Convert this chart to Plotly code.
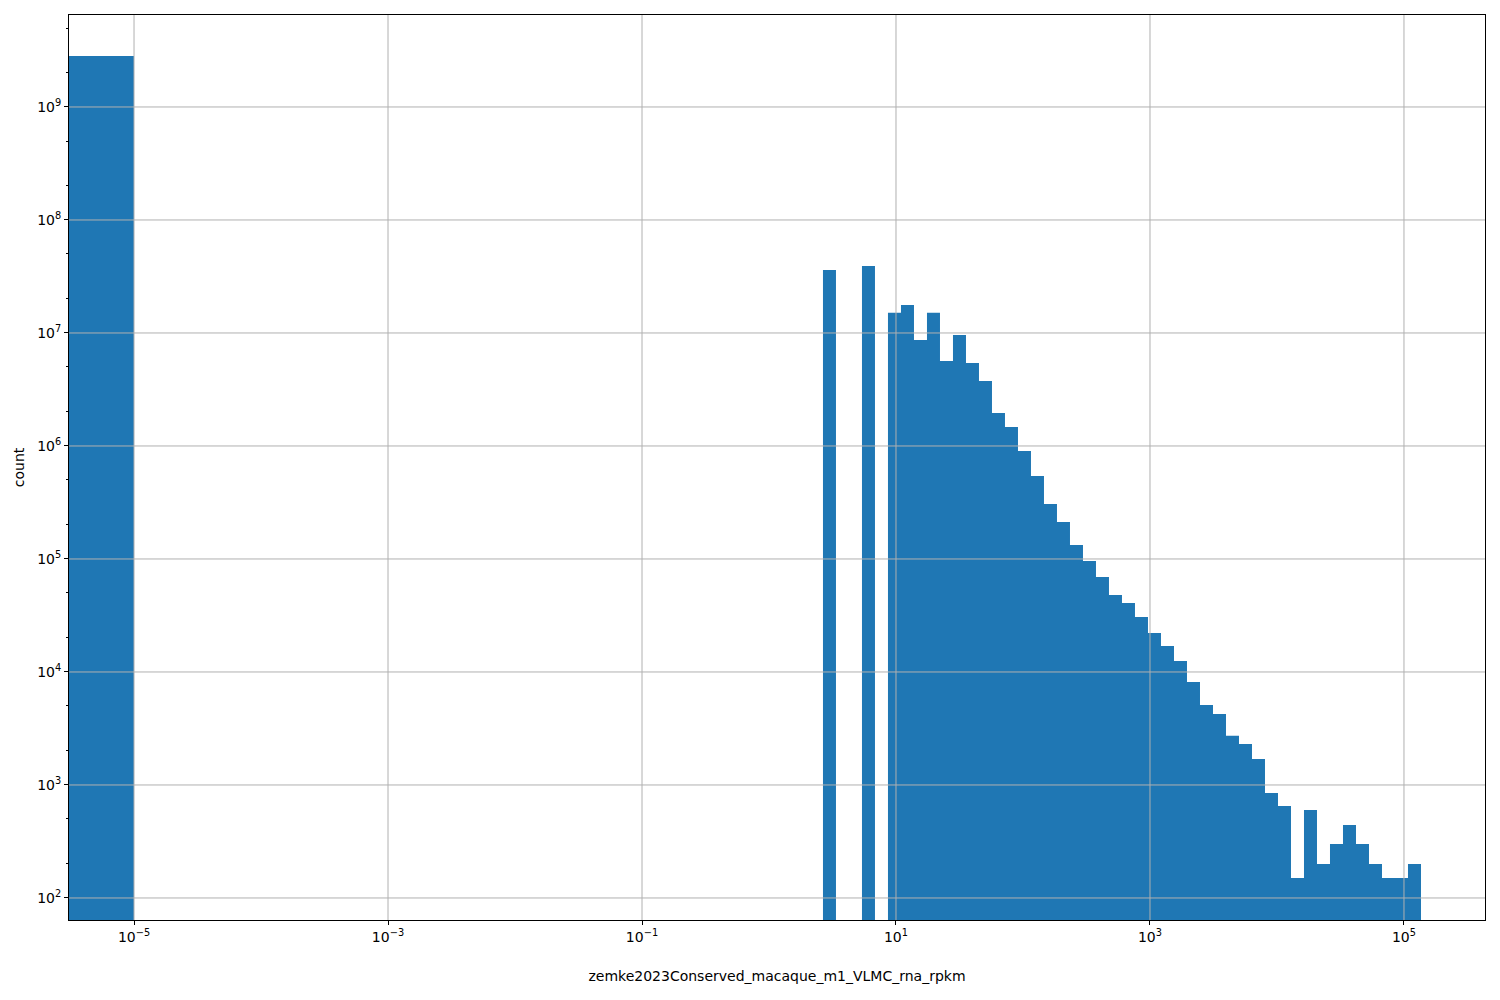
import numpy as np
import plotly.graph_objects as go

# ---- data ----
# wide first bin (values at the floor 1e-5)
floor_bin_edges = [1e-6, 1e-5]
floor_bin_count = 2.83e9

# log-spaced histogram bins: 46 bins between these log10 edges
log_edge_lo = 0.425
log_edge_hi = 5.134
n_bins = 46
counts = [
    3.6e7, 0, 0, 3.92e7, 0, 1.51e7, 1.77e7, 8.67e6, 1.51e7, 5.65e6,
    9.6e6, 5.43e6, 3.76e6, 1.96e6, 1.47e6, 9.03e5, 5.43e5, 3.07e5, 2.12e5, 1.33e5,
    9.6e4, 6.93e4, 4.8e4, 4.08e4, 3.07e4, 2.21e4, 1.70e4, 1.25e4, 8.16e3, 5.1e3,
    4.25e3, 2.72e3, 2.31e3, 1.70e3, 849, 652, 150, 601, 200, 301,
    443, 301, 200, 150, 150, 200,
]
x_tickvals = [1e-5, 1e-3, 1e-1, 1e1, 1e3, 1e5]
x_ticktext = ["10<sup>−5</sup>", "10<sup>−3</sup>", "10<sup>−1</sup>",
              "10<sup>1</sup>", "10<sup>3</sup>", "10<sup>5</sup>"]
y_tickvals = [1e2, 1e3, 1e4, 1e5, 1e6, 1e7, 1e8, 1e9]
y_ticktext = ["10<sup>%d</sup>" % k for k in range(2, 10)]
x_title = "zemke2023Conserved_macaque_m1_VLMC_rna_rpkm"
y_title = "count"

# ---- build bar polygons ----
edges = np.logspace(log_edge_lo, log_edge_hi, n_bins + 1)
lefts = [floor_bin_edges[0]] + list(edges[:-1])
rights = [floor_bin_edges[1]] + list(edges[1:])
heights = [floor_bin_count] + counts
base = 1.0

px, py = [], []
for L, R, h in zip(lefts, rights, heights):
    if h <= 0:
        continue
    px += [L, L, R, R, L, None]
    py += [base, h, h, base, base, None]

fig = go.Figure()
fig.add_trace(go.Scatter(
    x=px, y=py, mode="lines", fill="toself", fillcolor="#1f77b4",
    line=dict(width=0, color="#1f77b4"), hoverinfo="skip", showlegend=False,
))

# gridlines drawn above bars (as in matplotlib output)
grid_color = "#b0b0b0"
gx, gy = [], []
for v in x_tickvals:
    gx += [v, v, None]
    gy += [1e0, 1e12, None]
for v in y_tickvals:
    gx += [1e-8, 1e8, None]
    gy += [v, v, None]
fig.add_trace(go.Scatter(
    x=gx, y=gy, mode="lines", line=dict(color=grid_color, width=1),
    hoverinfo="skip", showlegend=False,
))

font = dict(family="DejaVu Sans", size=14, color="black")
fig.update_layout(
    width=1500, height=1000,
    margin=dict(l=61, r=23, t=7, b=88),
    plot_bgcolor="white", paper_bgcolor="white",
    font=font,
    xaxis=dict(
        type="log", range=[-5.512, 5.638],
        tickvals=x_tickvals, ticktext=x_ticktext,
        showgrid=False, zeroline=False,
        showline=True, mirror=True, linecolor="black", linewidth=1,
        ticks="outside", ticklen=4, tickwidth=1, tickcolor="black",
        title=dict(text=x_title, font=font, standoff=27),
    ),
    yaxis=dict(
        type="log", range=[1.805, 9.814],
        tickvals=y_tickvals, ticktext=y_ticktext,
        showgrid=False, zeroline=False,
        showline=True, mirror=True, linecolor="black", linewidth=1,
        ticks="outside", ticklen=4, tickwidth=1, tickcolor="black",
        minor=dict(ticks="outside", ticklen=2, tickwidth=1, tickcolor="black",
                   showgrid=False),
        title=dict(text=y_title, font=font, standoff=9),
    ),
)

fig.write_html("out.html")
